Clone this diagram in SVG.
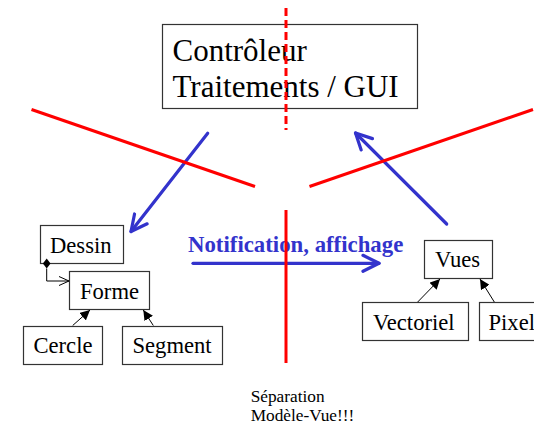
<svg xmlns="http://www.w3.org/2000/svg" width="534" height="428" viewBox="0 0 534 428">
  <style>
    .box { fill: #fff; stroke: #333; stroke-width: 1.2; }
    .lbl { font-family: "Liberation Serif", "Times New Roman", serif; font-size: 22.6px; fill: #000; }
    .big { font-family: "Liberation Serif", "Times New Roman", serif; font-size: 31px; fill: #000; }
    .red { stroke: #ff0000; stroke-width: 3; fill: none; }
    .blue { stroke: #3333cc; stroke-width: 3.2; fill: none; stroke-linecap: round; stroke-linejoin: round; }
    .thin { stroke: #000; stroke-width: 1; fill: none; }
  </style>
  <defs>
    <marker id="open-blue" viewBox="0 0 20 20" refX="18" refY="10" markerWidth="20" markerHeight="20" markerUnits="userSpaceOnUse" orient="auto">
      <path d="M2,2 L18,10 L2,18" fill="none" stroke="#3333cc" stroke-width="3.2" stroke-linecap="round" stroke-linejoin="round"/>
    </marker>
    <marker id="tri" viewBox="0 0 10 10" refX="10" refY="5" markerWidth="10" markerHeight="10" markerUnits="userSpaceOnUse" orient="auto">
      <path d="M0,0 L10,5 L0,10 Z" fill="#000"/>
    </marker>
    <marker id="open-small" viewBox="0 0 10 10" refX="10" refY="5" markerWidth="10" markerHeight="10" markerUnits="userSpaceOnUse" orient="auto">
      <path d="M0,0.5 L10,5 L0,9.5" fill="none" stroke="#000" stroke-width="1"/>
    </marker>
  </defs>

  <!-- controller -->
  <g id="controleur">
    <rect class="box" x="162.5" y="24.5" width="255" height="84"/>
    <text class="big" x="172.5" y="61">Contrôleur</text>
    <text class="big" x="172.5" y="96.5">Traitements / GUI</text>
  </g>

  <!-- model side -->
  <g id="dessin">
    <rect class="box" x="40.5" y="225.5" width="83" height="38"/>
    <text class="lbl" x="50" y="252.5">Dessin</text>
  </g>
  <g id="forme">
    <rect class="box" x="69.5" y="271.5" width="80" height="38"/>
    <text class="lbl" x="80" y="298.5">Forme</text>
  </g>
  <g id="cercle">
    <rect class="box" x="23.5" y="326.5" width="79" height="38"/>
    <text class="lbl" x="33.5" y="353">Cercle</text>
  </g>
  <g id="segment">
    <rect class="box" x="122.5" y="326.5" width="100" height="38"/>
    <text class="lbl" x="132.5" y="353">Segment</text>
  </g>

  <!-- view side -->
  <g id="vues">
    <rect class="box" x="424.5" y="240.5" width="68" height="38"/>
    <text class="lbl" x="435" y="267">Vues</text>
  </g>
  <g id="vectoriel">
    <rect class="box" x="362.5" y="302.5" width="106" height="38"/>
    <text class="lbl" x="373" y="330">Vectoriel</text>
  </g>
  <g id="pixel">
    <rect class="box" x="479.5" y="302.5" width="70" height="38"/>
    <text class="lbl" x="488.5" y="330">Pixel</text>
  </g>

  <!-- connectors -->
  <g id="connectors">
    <!-- composition Dessin -> Forme -->
    <path d="M46.7,258.5 L50.5,263.5 L46.7,268.5 L42.9,263.5 Z" fill="#000"/>
    <path class="thin" d="M46.7,268.5 V281 H69" marker-end="url(#open-small)"/>
    <!-- inheritance -->
    <line class="thin" x1="72.7" y1="325.5" x2="90" y2="310" marker-end="url(#tri)"/>
    <line class="thin" x1="153.3" y1="325.5" x2="143.3" y2="310" marker-end="url(#tri)"/>
    <line class="thin" x1="417.7" y1="302" x2="440" y2="279" marker-end="url(#tri)"/>
    <line class="thin" x1="494.3" y1="302" x2="480" y2="279" marker-end="url(#tri)"/>
    <!-- blue flows -->
    <line class="blue" x1="207.7" y1="133.3" x2="131" y2="231.5" marker-end="url(#open-blue)"/>
    <line class="blue" x1="446.7" y1="224" x2="355.5" y2="133" marker-end="url(#open-blue)"/>
    <line class="blue" x1="193" y1="263.3" x2="379" y2="263.3" marker-end="url(#open-blue)"/>
  </g>

  <text x="188" y="251.5" font-family="'Liberation Serif', 'Times New Roman', serif" font-size="22.8" font-weight="bold" fill="#3333cc">Notification, affichage</text>

  <g font-family="'Liberation Serif', 'Times New Roman', serif" font-size="17.3" fill="#000">
    <text x="250.7" y="401.5">Séparation</text>
    <text x="250.7" y="420.5">Modèle-Vue!!!</text>
  </g>

  <!-- separation lines -->
  <g id="separators">
    <line class="red" x1="286" y1="8" x2="286" y2="130" stroke-dasharray="8,4"/>
    <line class="red" x1="286" y1="210" x2="286" y2="363"/>
    <line class="red" x1="31.5" y1="109.5" x2="255" y2="186.5"/>
    <line class="red" x1="309.5" y1="186.5" x2="533" y2="109.5"/>
  </g>
</svg>
